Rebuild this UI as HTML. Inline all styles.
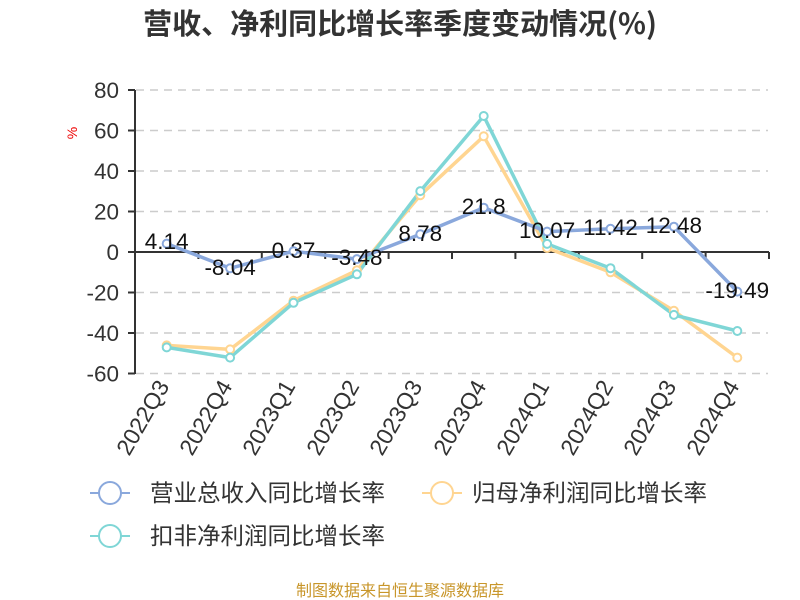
<!DOCTYPE html>
<html><head><meta charset="utf-8"><style>
body{margin:0;background:#fff;}
svg{display:block;font-family:"Liberation Sans","Noto Sans CJK SC",sans-serif;}
</style></head><body>
<svg width="800" height="600" xmlns="http://www.w3.org/2000/svg">
<text x="400" y="34" text-anchor="middle" font-size="29" font-weight="bold" fill="#333" font-family="'Noto Sans CJK SC',sans-serif">营收、净利同比增长率季度变动情况(%)</text>
<text x="77" y="133" font-size="14" fill="#e00" transform="rotate(-90 77 133)" text-anchor="middle">%</text>
<g stroke="#ccc" stroke-width="1.5" stroke-dasharray="8,6">
<line x1="136" x2="768" y1="90" y2="90"/><line x1="136" x2="768" y1="130.5" y2="130.5"/>
<line x1="136" x2="768" y1="171" y2="171"/><line x1="136" x2="768" y1="211.5" y2="211.5"/>
<line x1="136" x2="768" y1="292.5" y2="292.5"/><line x1="136" x2="768" y1="333" y2="333"/>
<line x1="136" x2="768" y1="373.5" y2="373.5"/>
</g>
<g stroke="#333" stroke-width="2">
<line x1="135" x2="135" y1="90" y2="374"/>
<line x1="135" x2="769" y1="252" y2="252"/>
<line x1="128" x2="135" y1="90" y2="90"/><line x1="128" x2="135" y1="130.5" y2="130.5"/>
<line x1="128" x2="135" y1="171" y2="171"/><line x1="128" x2="135" y1="211.5" y2="211.5"/>
<line x1="128" x2="135" y1="252" y2="252"/><line x1="128" x2="135" y1="292.5" y2="292.5"/>
<line x1="128" x2="135" y1="333" y2="333"/><line x1="128" x2="135" y1="373.5" y2="373.5"/>
<path d="M198.4 252v7M261.8 252v7M325.2 252v7M388.6 252v7M452 252v7M515.4 252v7M578.8 252v7M642.2 252v7M705.6 252v7M769 252v7"/>
</g>
<g font-size="22.5" fill="#333" text-anchor="end">
<text x="119" y="98">80</text><text x="119" y="138.5">60</text><text x="119" y="179">40</text>
<text x="119" y="219.5">20</text><text x="119" y="260">0</text><text x="119" y="300.5">-20</text>
<text x="119" y="341">-40</text><text x="119" y="381.5">-60</text>
</g>
<g font-size="23" fill="#333" text-anchor="end">
<text transform="translate(170,386) rotate(-60)">2022Q3</text>
<text transform="translate(233,386) rotate(-60)">2022Q4</text>
<text transform="translate(296,386) rotate(-60)">2023Q1</text>
<text transform="translate(360,386) rotate(-60)">2023Q2</text>
<text transform="translate(423,386) rotate(-60)">2023Q3</text>
<text transform="translate(487,386) rotate(-60)">2023Q4</text>
<text transform="translate(550,386) rotate(-60)">2024Q1</text>
<text transform="translate(614,386) rotate(-60)">2024Q2</text>
<text transform="translate(677,386) rotate(-60)">2024Q3</text>
<text transform="translate(740,386) rotate(-60)">2024Q4</text>
</g>
<g fill="none" stroke-width="3.5" stroke-linejoin="round">
<polyline stroke="#ffd591" points="166.7,345.4 230.1,349.4 293.5,300.7 356.9,270.3 420.3,195.2 483.7,136.3 547.1,248 610.5,272.3 673.9,310.8 737.3,357.6"/>
<polyline stroke="#7fd6d6" points="166.7,347.4 230.1,357.6 293.5,302.8 356.9,274.3 420.3,191.1 483.7,116 547.1,243.9 610.5,268.2 673.9,314.9 737.3,331"/>
<polyline stroke="#8aa8dc" points="166.7,243.6 230.1,268.3 293.5,251.2 356.9,259.1 420.3,234.2 483.7,207.7 547.1,231.6 610.5,228.8 673.9,226.7 737.3,291.6"/>
</g>
<g fill="#fff" stroke-width="2">
<g stroke="#ffd591"><circle cx="166.7" cy="345.4" r="4"/><circle cx="230.1" cy="349.4" r="4"/><circle cx="293.5" cy="300.7" r="4"/><circle cx="356.9" cy="270.3" r="4"/><circle cx="420.3" cy="195.2" r="4"/><circle cx="483.7" cy="136.3" r="4"/><circle cx="547.1" cy="248" r="4"/><circle cx="610.5" cy="272.3" r="4"/><circle cx="673.9" cy="310.8" r="4"/><circle cx="737.3" cy="357.6" r="4"/></g>
<g stroke="#7fd6d6"><circle cx="166.7" cy="347.4" r="4"/><circle cx="230.1" cy="357.6" r="4"/><circle cx="293.5" cy="302.8" r="4"/><circle cx="356.9" cy="274.3" r="4"/><circle cx="420.3" cy="191.1" r="4"/><circle cx="483.7" cy="116" r="4"/><circle cx="547.1" cy="243.9" r="4"/><circle cx="610.5" cy="268.2" r="4"/><circle cx="673.9" cy="314.9" r="4"/><circle cx="737.3" cy="331" r="4"/></g>
<g stroke="#8aa8dc"><circle cx="166.7" cy="243.6" r="4"/><circle cx="230.1" cy="268.3" r="4"/><circle cx="293.5" cy="251.2" r="4"/><circle cx="356.9" cy="259.1" r="4"/><circle cx="420.3" cy="234.2" r="4"/><circle cx="483.7" cy="207.7" r="4"/><circle cx="547.1" cy="231.6" r="4"/><circle cx="610.5" cy="228.8" r="4"/><circle cx="673.9" cy="226.7" r="4"/><circle cx="737.3" cy="291.6" r="4"/></g>
</g>
<g font-size="22.5" fill="#111" text-anchor="middle">
<text x="166.7" y="249">4.14</text><text x="230.1" y="275">-8.04</text><text x="293.5" y="258">0.37</text>
<text x="356.9" y="265">-3.48</text><text x="420.3" y="241">8.78</text><text x="483.7" y="214">21.8</text>
<text x="547.1" y="238">10.07</text><text x="610.5" y="235">11.42</text><text x="673.9" y="233">12.48</text>
<text x="737.3" y="298">-19.49</text>
</g>
<g stroke-width="2" fill="#fff">
<line x1="90" x2="130" y1="493" y2="493" stroke="#8aa8dc"/><circle cx="110" cy="493" r="11" stroke="#8aa8dc"/>
<line x1="422" x2="462" y1="493" y2="493" stroke="#ffd591"/><circle cx="442" cy="493" r="11" stroke="#ffd591"/>
<line x1="90" x2="130" y1="536" y2="536" stroke="#7fd6d6"/><circle cx="110" cy="536" r="11" stroke="#7fd6d6"/>
</g>
<g font-size="23.5" fill="#333">
<text x="150" y="501">营业总收入同比增长率</text>
<text x="472" y="501">归母净利润同比增长率</text>
<text x="150" y="544">扣非净利润同比增长率</text>
</g>
<text x="400" y="596" text-anchor="middle" font-size="16" fill="#c8962a">制图数据来自恒生聚源数据库</text>
</svg>
</body></html>
